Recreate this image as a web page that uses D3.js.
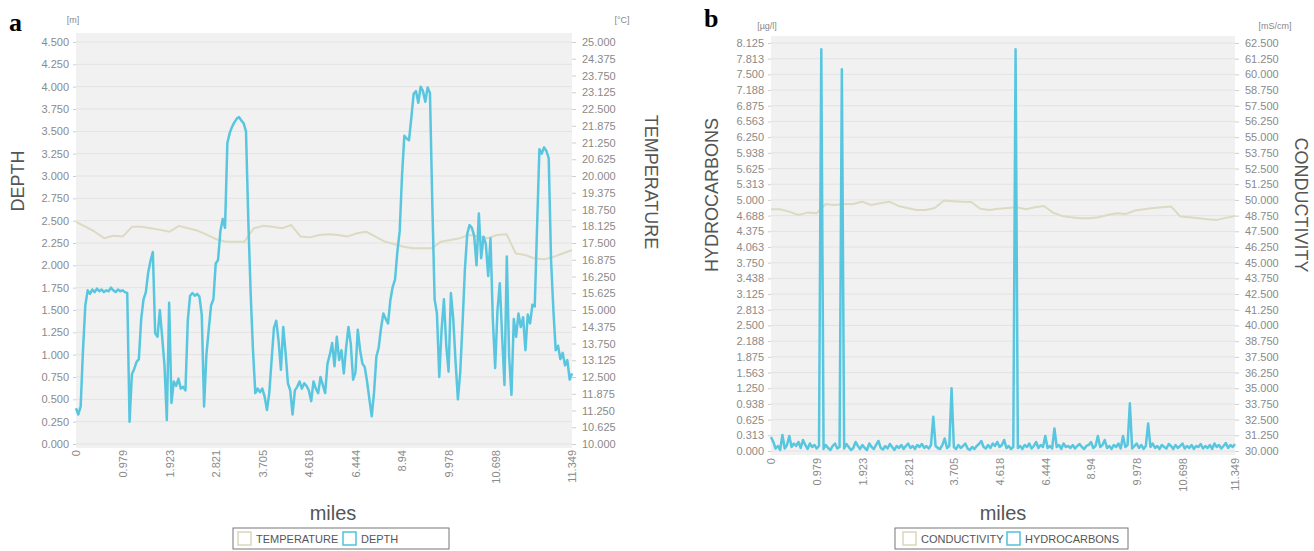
<!DOCTYPE html>
<html>
<head>
<meta charset="utf-8">
<script src="https://cdn.jsdelivr.net/npm/d3@7"></script>
<style>
  body { margin: 0; background: #fff; }
  svg { display: block; font-family: "Liberation Sans", Arial, sans-serif; }
</style>
</head>
<body>
<svg id="chart" width="1314" height="551"></svg>
<script>
// tick labels along the track (miles), placed every 20 samples plus the last one
const milesLabels = ['0', '0.979', '1.923', '2.821', '3.705', '4.618', '6.444', '8.94', '9.978', '10.698', '11.349'];
const milesIndexA = [0, 20, 40, 60, 80, 100, 120, 140, 160, 180, 213];
const milesIndexB = [0, 20, 40, 60, 80, 100, 120, 140, 160, 180, 203];

// panel a: depth [m] (214 samples)
const depth = [
  0.40, 0.33, 0.42, 1.05, 1.55, 1.72, 1.68, 1.73, 1.70, 1.74,
  1.71, 1.73, 1.70, 1.72, 1.71, 1.75, 1.72, 1.70, 1.73, 1.71,
  1.72, 1.70, 1.69, 0.25, 0.78, 0.84, 0.92, 0.95, 1.40, 1.62,
  1.70, 1.92, 2.05, 2.15, 1.24, 1.20, 1.50, 1.20, 0.88, 0.27,
  1.58, 0.46, 0.70, 0.65, 0.73, 0.62, 0.64, 0.60, 1.38, 1.66,
  1.69, 1.66, 1.68, 1.65, 1.45, 0.42, 1.00, 1.28, 1.55, 1.62,
  2.02, 2.06, 2.38, 2.52, 2.42, 3.37, 3.48, 3.55, 3.60, 3.64,
  3.66, 3.62, 3.59, 3.50, 2.50, 1.69, 1.05, 0.57, 0.62, 0.58,
  0.62, 0.53, 0.38, 0.57, 0.94, 1.30, 1.38, 1.15, 0.83, 1.31,
  1.02, 0.68, 0.60, 0.33, 0.60, 0.64, 0.70, 0.62, 0.68, 0.65,
  0.60, 0.48, 0.70, 0.62, 0.57, 0.75, 0.66, 0.57, 0.90, 1.00,
  1.13, 0.87, 1.20, 0.94, 1.05, 0.79, 1.08, 1.31, 1.12, 0.72,
  0.80, 1.28, 1.05, 0.90, 0.86, 0.70, 0.50, 0.31, 0.58, 0.98,
  1.08, 1.30, 1.46, 1.40, 1.35, 1.61, 1.76, 1.84, 2.15, 2.38,
  3.00, 3.45, 3.42, 3.40, 3.65, 3.92, 3.95, 3.82, 4.00, 3.95,
  3.83, 3.99, 3.93, 2.70, 1.62, 1.46, 0.75, 1.28, 1.62, 1.10,
  0.81, 1.69, 1.40, 0.92, 0.50, 0.80, 1.35, 1.95, 2.35, 2.45,
  2.42, 2.33, 2.00, 2.58, 2.08, 2.32, 2.24, 1.88, 2.30, 1.40,
  0.85, 1.50, 1.80, 1.20, 0.66, 2.10, 0.98, 0.55, 1.40, 1.20,
  1.46, 1.31, 1.42, 1.05, 1.45, 1.35, 1.56, 1.54, 2.43, 3.30,
  3.25, 3.32, 3.28, 3.20, 2.06, 1.50, 1.05, 1.10, 0.95, 1.02,
  0.88, 0.94, 0.72, 0.79
];

// panel a: temperature [°C] (54 samples over the same track)
const temperature = [
  18.29, 18.11, 17.92, 17.68, 17.77, 17.74, 18.11, 18.11, 18.05, 17.99,
  17.92, 18.14, 18.05, 17.96, 17.80, 17.64, 17.55, 17.55, 17.55, 18.05,
  18.14, 18.11, 18.05, 18.17, 17.74, 17.71, 17.80, 17.83, 17.80, 17.74,
  17.86, 17.92, 17.74, 17.55, 17.46, 17.36, 17.30, 17.30, 17.30, 17.55,
  17.61, 17.68, 17.80, 17.74, 17.68, 17.80, 17.83, 17.11, 17.05, 16.92,
  16.89, 16.98, 17.11, 17.24
];

// panel b: hydrocarbons [µg/l] (204 samples)
const hydrocarbons = [
  0.28, 0.18, 0.05, 0.10, 0.02, 0.32, 0.05, 0.12, 0.30, 0.08,
  0.15, 0.10, 0.18, 0.06, 0.22, 0.12, 0.04, 0.15, 0.08, 0.12,
  0.05, 0.10, 8.00, 0.04, 0.12, 0.06, 0.02, 0.10, 0.15, 0.05,
  0.08, 7.60, 0.05, 0.14, 0.08, 0.02, 0.06, 0.18, 0.10, 0.04,
  0.12, 0.06, 0.02, 0.15, 0.08, 0.04, 0.12, 0.20, 0.06, 0.03,
  0.10, 0.05, 0.14, 0.08, 0.02, 0.10, 0.06, 0.12, 0.04, 0.10,
  0.15, 0.06, 0.10, 0.04, 0.12, 0.08, 0.14, 0.06, 0.10, 0.05,
  0.12, 0.68, 0.10, 0.06, 0.04, 0.12, 0.25, 0.06, 0.10, 1.25,
  0.08, 0.04, 0.12, 0.06, 0.10, 0.15, 0.05, 0.02, 0.08, 0.04,
  0.10, 0.14, 0.20, 0.08, 0.05, 0.12, 0.06, 0.15, 0.10, 0.18,
  0.08, 0.12, 0.22, 0.06, 0.10, 0.04, 0.08, 8.00, 0.06, 0.10,
  0.04, 0.12, 0.08, 0.15, 0.05, 0.10, 0.18, 0.06, 0.12, 0.08,
  0.30, 0.06, 0.10, 0.05, 0.45, 0.08, 0.12, 0.04, 0.15, 0.08,
  0.10, 0.06, 0.12, 0.05, 0.10, 0.14, 0.08, 0.04, 0.10, 0.12,
  0.18, 0.06, 0.10, 0.30, 0.08, 0.12, 0.22, 0.06, 0.10, 0.04,
  0.12, 0.08, 0.15, 0.05, 0.30, 0.08, 0.12, 0.95, 0.05, 0.10,
  0.15, 0.06, 0.12, 0.04, 0.10, 0.55, 0.08, 0.15, 0.06, 0.10,
  0.04, 0.12, 0.08, 0.05, 0.14, 0.10, 0.04, 0.12, 0.06, 0.10,
  0.15, 0.05, 0.10, 0.06, 0.12, 0.04, 0.10, 0.08, 0.14, 0.05,
  0.10, 0.06, 0.12, 0.04, 0.15, 0.08, 0.12, 0.05, 0.10, 0.16,
  0.06, 0.12, 0.08, 0.14
];

// panel b: conductivity [mS/cm] (52 samples)
const conductivity = [
  49.26, 49.26, 49.07, 48.80, 48.99, 48.93, 49.68, 49.60, 49.68, 49.68,
  49.86, 49.60, 49.73, 49.86, 49.52, 49.36, 49.20, 49.20, 49.36, 49.95,
  49.90, 49.86, 49.84, 49.30, 49.20, 49.30, 49.36, 49.42, 49.26, 49.42,
  49.52, 48.99, 48.72, 48.62, 48.54, 48.54, 48.62, 48.80, 48.93, 48.88,
  49.15, 49.26, 49.36, 49.42, 49.47, 48.67, 48.62, 48.54, 48.46, 48.41,
  48.57, 48.72
];

const COLOR_BLUE = '#59c6df';
const COLOR_BEIGE = '#dcdac2';
const fmt = d3.format('.3f');

const svg = d3.select('#chart');

function styleAxis(sel) {
  sel.select('.domain').remove();
  sel.selectAll('.tick line').attr('stroke', '#cfcfcf');
  sel.selectAll('.tick text')
    .attr('fill', '#8a8a8a')
    .style('font-size', '11px');
}

function drawPanel(p) {
  let g = svg.append('g');

  let yL = d3.scaleLinear().domain(p.leftDomain).range([p.bottom, p.top]);
  let yR = d3.scaleLinear().domain(p.rightDomain).range([p.bottom, p.top]);
  let xIdx = d3.scaleLinear().domain([0, p.count - 1]).range([p.left, p.right]);

  g.append('rect')
    .attr('x', p.left)
    .attr('y', p.top - p.padTop)
    .attr('width', p.right - p.left)
    .attr('height', p.bottom - p.top + p.padTop + 4)
    .attr('fill', '#f1f1f1');

  g.selectAll('.grid')
    .data(p.leftTicks)
    .enter()
    .append('line')
    .attr('class', 'grid')
    .attr('x1', p.left)
    .attr('x2', p.right)
    .attr('y1', d => yL(d))
    .attr('y2', d => yL(d))
    .attr('stroke', '#e3e3e3')
    .attr('stroke-width', 1);

  g.append('g')
    .attr('transform', 'translate(' + p.left + ',0)')
    .call(d3.axisLeft(yL).tickValues(p.leftTicks).tickFormat(fmt).tickSize(3).tickPadding(4))
    .call(styleAxis);

  g.append('g')
    .attr('transform', 'translate(' + p.right + ',0)')
    .call(d3.axisRight(yR).tickValues(p.rightTicks).tickFormat(fmt).tickSize(4).tickPadding(6))
    .call(styleAxis);

  let xAxis = g.append('g')
    .attr('transform', 'translate(0,' + p.bottom + ')')
    .call(d3.axisBottom(xIdx).tickValues(p.xTickIndex)
      .tickFormat((d, i) => p.xTickLabels[i]).tickSize(0))
    .call(styleAxis);
  xAxis.selectAll('.tick text')
    .attr('transform', 'rotate(-90)')
    .attr('x', -p.xLabelGap)
    .attr('y', 0)
    .attr('dy', '0.35em')
    .attr('text-anchor', 'end');

  // background series first (right axis), then the blue one on top
  let xBack = d3.scaleLinear().domain([0, p.backSeries.length - 1]).range([p.left, p.right]);
  g.append('path')
    .datum(p.backSeries)
    .attr('fill', 'none')
    .attr('stroke', COLOR_BEIGE)
    .attr('stroke-width', 2)
    .attr('stroke-linejoin', 'round')
    .attr('d', d3.line().x((d, i) => xBack(i)).y(d => yR(d)));

  g.append('path')
    .datum(p.frontSeries)
    .attr('fill', 'none')
    .attr('stroke', COLOR_BLUE)
    .attr('stroke-width', 2.5)
    .attr('stroke-linejoin', 'round')
    .attr('d', d3.line().x((d, i) => xIdx(i)).y(d => yL(d)));

  // units
  g.append('text').attr('x', p.unitLeft[0]).attr('y', p.unitLeft[1])
    .attr('text-anchor', 'middle').attr('fill', '#888').style('font-size', '9px')
    .text(p.unitLeftText);
  g.append('text').attr('x', p.unitRight[0]).attr('y', p.unitRight[1])
    .attr('text-anchor', 'middle').attr('fill', '#888').style('font-size', '9px')
    .text(p.unitRightText);

  // axis titles
  g.append('text')
    .attr('transform', 'translate(' + p.titleLeft[0] + ',' + p.titleLeft[1] + ') rotate(-90)')
    .attr('text-anchor', 'middle')
    .attr('dominant-baseline', 'central')
    .attr('fill', '#555')
    .style('font-size', p.titleSize + 'px')
    .text(p.titleLeftText);
  g.append('text')
    .attr('transform', 'translate(' + p.titleRight[0] + ',' + p.titleRight[1] + ') rotate(90)')
    .attr('text-anchor', 'middle')
    .attr('dominant-baseline', 'central')
    .attr('fill', '#555')
    .style('font-size', p.titleSize + 'px')
    .text(p.titleRightText);

  g.append('text')
    .attr('x', p.milesX)
    .attr('y', 520)
    .attr('text-anchor', 'middle')
    .attr('fill', '#555')
    .style('font-size', '20px')
    .text('miles');

  // panel letter
  g.append('text')
    .attr('x', p.letter[0])
    .attr('y', p.letter[1])
    .style('font-family', '"Liberation Serif", "Times New Roman", serif')
    .style('font-weight', 'bold')
    .style('font-size', '26px')
    .attr('fill', '#000')
    .text(p.letterText);

  // legend
  let lg = g.append('g').attr('transform', 'translate(' + p.legend.x + ',528)');
  lg.append('rect')
    .attr('width', p.legend.w)
    .attr('height', 21)
    .attr('fill', '#fff')
    .attr('stroke', '#777')
    .attr('stroke-width', 1);
  let items = lg.selectAll('.item')
    .data(p.legend.items)
    .enter()
    .append('g')
    .attr('class', 'item')
    .attr('transform', d => 'translate(' + d.x + ',0)');
  items.append('rect')
    .attr('x', 0).attr('y', 4)
    .attr('width', 13).attr('height', 13)
    .attr('fill', '#fff')
    .attr('stroke', d => d.color)
    .attr('stroke-width', 1.6);
  items.append('text')
    .attr('x', 18).attr('y', 15)
    .attr('fill', '#555')
    .style('font-size', '11px')
    .text(d => d.name);
}

drawPanel({
  left: 76, right: 572, top: 42, bottom: 444, padTop: 9,
  count: depth.length,
  leftDomain: [0, 4.5], rightDomain: [10, 25],
  leftTicks: d3.range(0, 18.5).map(k => k * 0.25),
  rightTicks: d3.range(0, 24.5).map(k => 10 + k * 0.625),
  xTickIndex: milesIndexA, xTickLabels: milesLabels, xLabelGap: 6,
  frontSeries: depth, backSeries: temperature,
  unitLeft: [73, 23], unitLeftText: '[m]',
  unitRight: [622, 23], unitRightText: '[°C]',
  titleLeft: [18, 181], titleLeftText: 'DEPTH',
  titleRight: [651, 182], titleRightText: 'TEMPERATURE',
  titleSize: 18,
  milesX: 333,
  letter: [9, 31], letterText: 'a',
  legend: { x: 233, w: 216, items: [
    { name: 'TEMPERATURE', color: COLOR_BEIGE, x: 5 },
    { name: 'DEPTH', color: COLOR_BLUE, x: 110 }
  ]}
});

drawPanel({
  left: 771, right: 1235, top: 43, bottom: 451, padTop: 7,
  count: hydrocarbons.length,
  leftDomain: [0, 8.125], rightDomain: [30, 62.5],
  leftTicks: d3.range(0, 26.5).map(k => k * 0.3125),
  rightTicks: d3.range(0, 26.5).map(k => 30 + k * 1.25),
  xTickIndex: milesIndexB, xTickLabels: milesLabels, xLabelGap: 7,
  frontSeries: hydrocarbons, backSeries: conductivity,
  unitLeft: [767, 29], unitLeftText: '[µg/l]',
  unitRight: [1275, 29], unitRightText: '[mS/cm]',
  titleLeft: [712, 195], titleLeftText: 'HYDROCARBONS',
  titleRight: [1301, 205], titleRightText: 'CONDUCTIVITY',
  titleSize: 18,
  milesX: 1003,
  letter: [704, 27], letterText: 'b',
  legend: { x: 895, w: 233, items: [
    { name: 'CONDUCTIVITY', color: COLOR_BEIGE, x: 8 },
    { name: 'HYDROCARBONS', color: COLOR_BLUE, x: 112 }
  ]}
});
</script>
</body>
</html>
